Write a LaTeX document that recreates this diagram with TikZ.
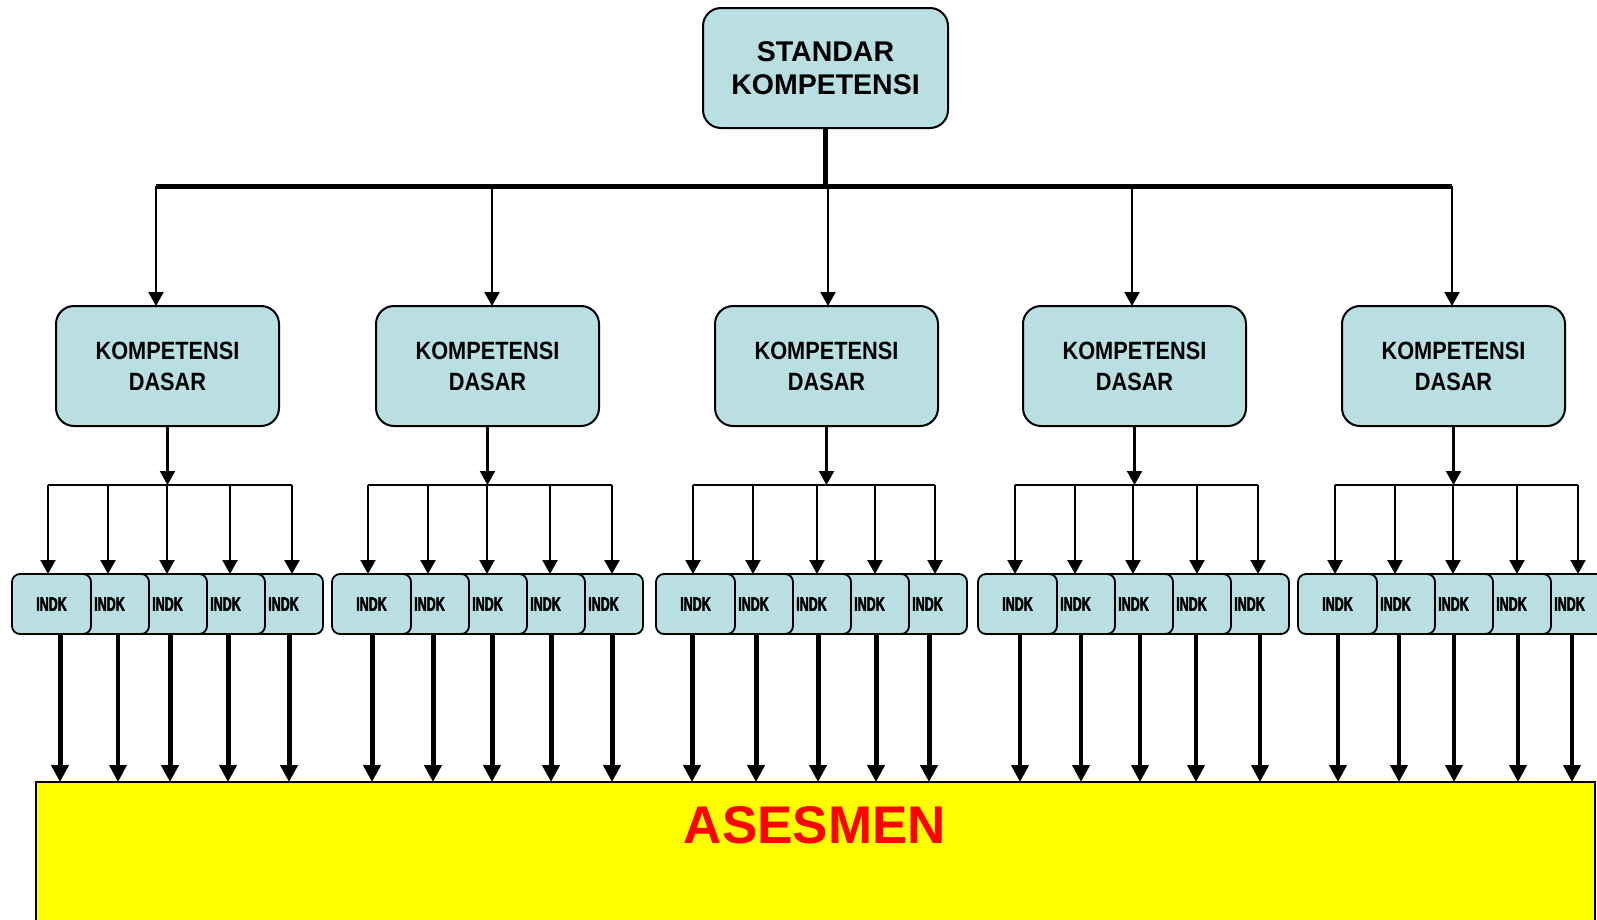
\documentclass[tikz,border=0pt]{standalone}
\usepackage{fontspec}
\setmainfont{Liberation Sans}
\newfontfamily\kdfont[FakeStretch=0.87]{Liberation Sans}
\newfontfamily\indkfont[FakeStretch=0.64,FakeBold=2.5]{Liberation Sans}
\usetikzlibrary{arrows.meta}
\definecolor{boxblue}{HTML}{B9DFE3}
\definecolor{asyellow}{HTML}{FFFF00}
\definecolor{asred}{HTML}{FF0000}
\begin{document}
\begin{tikzpicture}[x=1pt,y=-1pt,
  skbox/.style={draw, line width=2pt, rounded corners=18pt, fill=boxblue, minimum width=245pt, minimum height=120pt, inner sep=0pt, outer sep=0pt, align=center, font=\fontsize{28.5}{33}\selectfont\bfseries},
  kdbox/.style={draw, line width=2pt, rounded corners=18pt, fill=boxblue, minimum width=223pt, minimum height=120pt, inner sep=0pt, outer sep=0pt, align=center, font=\kdfont\fontsize{25}{31}\selectfont\bfseries},
  indkbox/.style={draw, line width=1.8pt, rounded corners=8pt, fill=boxblue, minimum width=79pt, minimum height=60pt, inner sep=0pt, outer sep=0pt, font=\indkfont\fontsize{19.5}{20}\selectfont\bfseries},
  thinarrow/.style={line width=2.2pt, -{Triangle[width=15pt,length=14pt]}},
  lowarrow/.style={-{Triangle[width=17pt,length=17pt]}},
  distline/.style={line width=2.2pt},
  barline/.style={line width=5pt},
]
\useasboundingbox (0,0) rectangle (1597,919);
\fill[white] (0,0) rectangle (1597,919);
\clip (0,0) rectangle (1597,919);

% ASESMEN box
\node[draw, line width=2pt, fill=asyellow, minimum width=1559pt, minimum height=170pt, inner sep=0pt, outer sep=0pt, anchor=north west] (asesmen) at (36,782) {};
\node[text=asred, font=\fontsize{53}{60}\selectfont\bfseries, inner sep=0pt] (asestext) at (815,825) {ASESMEN};

% Standar kompetensi
\node[skbox] (SK) at (825.5,68) {STANDAR\\KOMPETENSI};
\coordinate (barL) at (156,186);
\coordinate (barR) at (1452,186);
\draw[barline] (SK.south) -- (SK.south |- barL);
\draw[barline] (barL) -- (barR);

% Kompetensi dasar boxes
\foreach \i/\l in {1/56,2/376,3/715,4/1023,5/1342}
  \node[kdbox, anchor=north west] (kd\i) at (\l,306) {KOMPETENSI\\DASAR};

\foreach \i/\x in {1/156,2/492,3/828,4/1132,5/1452}{
  \coordinate (ta\i) at (\x,186);
  \draw[thinarrow] (ta\i) -- (kd\i.north -| ta\i);
}

% distribution lines
\foreach \g/\l/\r in {1/48/292,2/368/612,3/693/935,4/1015/1258,5/1335/1578}{
  \coordinate (dl\g) at (\l,485);
  \coordinate (dr\g) at (\r,485);
  \draw[distline] (dl\g) -- (dr\g);
  \draw[thinarrow] (kd\g.south) -- (kd\g.south |- dl\g);
}

% INDK boxes (rightmost first so that the left one lies on top)
\foreach \g/\o in {1/0,2/320,3/644,4/966,5/1286}
  \foreach \k in {5,4,3,2,1}
    \node[indkbox, anchor=north west] (i\g\k) at ({\o+12+58*(\k-1)},574) {INDK};

% arrows into INDK boxes
\foreach \g/\xa/\xb/\xc/\xd/\xe in {1/48/108/167/230/292,2/368/428/487/550/612,3/693/753/817/875/935,4/1015/1075/1133/1197/1258,5/1335/1395/1453/1517/1578}
  \foreach \k/\x in {1/\xa,2/\xb,3/\xc,4/\xd,5/\xe}{
    \coordinate (sa) at (\x,485);
    \draw[thinarrow] (sa) -- (i\g\k.north -| sa);
  }

% arrows into ASESMEN
\foreach \g/\k/\x/\w in {1/1/60/5,1/2/118/3.5,1/3/170/5,1/4/228/5,1/5/289/5,
    2/1/372/5,2/2/433/5,2/3/492/5,2/4/551/5,2/5/612/5,
    3/1/692/5,3/2/756/5,3/3/818/5,3/4/876/5,3/5/929/5,
    4/1/1020/4,4/2/1081/4,4/3/1140/4,4/4/1196/4,4/5/1260/4,
    5/1/1338/4,5/2/1399/4,5/3/1454/4,5/4/1518/4,5/5/1572/4}{
    \coordinate (la) at (\x,0);
    \draw[lowarrow, line width=\w pt] (i\g\k.south -| la) -- (asesmen.north -| la);
  }
\end{tikzpicture}
\end{document}
